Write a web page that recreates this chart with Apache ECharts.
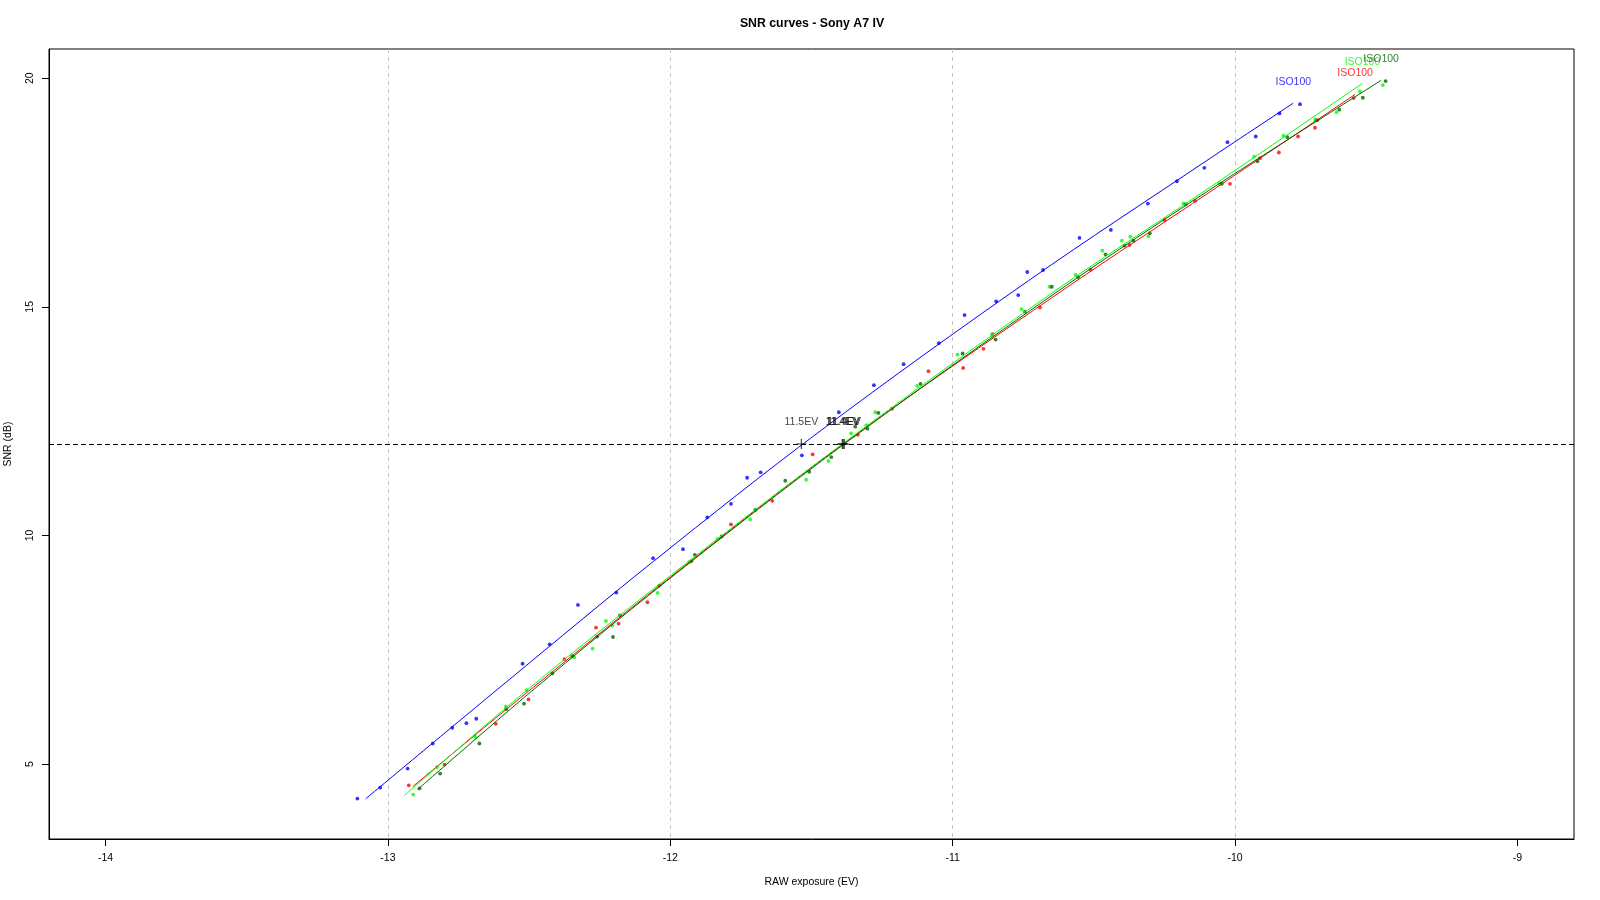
<!DOCTYPE html>
<html><head><meta charset="utf-8">
<script src="https://cdn.jsdelivr.net/npm/echarts@6/dist/echarts.min.js"></script>
<style>html,body{margin:0;padding:0;background:#fff}#c{width:1600px;height:900px}</style>
</head><body><div id="c"></div>
<script>
// ---- data ----
const chartTitle = 'SNR curves - Sony A7 IV';
const xTicks = [-14, -13, -12, -11, -10, -9];
const yTicks = [5, 10, 15, 20];
const snrThreshold = 12;
const seriesNames = ['ISO100', 'ISO100', 'ISO100', 'ISO100'];

const bluePts = [[-13.108,4.244],[-13.027,4.485],[-12.930,4.901],[-12.841,5.449],[-12.772,5.793],[-12.722,5.894],[-12.687,5.990],[-12.523,7.195],[-12.427,7.618],[-12.327,8.479],[-12.191,8.751],[-12.061,9.502],[-11.955,9.699],[-11.869,10.394],[-11.785,10.692],[-11.728,11.262],[-11.680,11.380],[-11.534,11.752],[-11.403,12.695],[-11.279,13.286],[-11.174,13.746],[-11.049,14.206],[-10.958,14.820],[-10.846,15.118],[-10.768,15.258],[-10.736,15.762],[-10.680,15.806],[-10.551,16.507],[-10.440,16.682],[-10.309,17.259],[-10.206,17.747],[-10.109,18.041],[-10.027,18.602],[-9.927,18.726],[-9.843,19.230],[-9.770,19.434]];
const redPts = [[-12.926,4.535],[-12.799,4.989],[-12.618,5.880],[-12.502,6.413],[-12.375,7.296],[-12.263,7.984],[-12.183,8.071],[-12.081,8.538],[-11.925,9.436],[-11.785,10.241],[-11.639,10.758],[-11.496,11.774],[-11.336,12.204],[-11.215,12.773],[-11.086,13.593],[-10.963,13.665],[-10.891,14.081],[-10.859,14.404],[-10.691,14.986],[-10.512,15.812],[-10.374,16.354],[-10.250,16.901],[-10.142,17.318],[-10.018,17.690],[-9.912,18.251],[-9.845,18.376],[-9.777,18.726],[-9.717,18.917],[-9.580,19.566]];
const greenPts = [[-12.910,4.331],[-12.826,4.929],[-12.689,5.587],[-12.582,6.259],[-12.509,6.617],[-12.340,7.333],[-12.275,7.524],[-12.228,8.128],[-12.205,8.028],[-12.045,8.742],[-11.932,9.421],[-11.833,9.925],[-11.717,10.350],[-11.519,11.218],[-11.440,11.628],[-11.360,12.234],[-11.306,12.410],[-11.274,12.695],[-11.126,13.271],[-10.983,13.957],[-10.861,14.382],[-10.756,14.951],[-10.657,15.440],[-10.565,15.703],[-10.470,16.229],[-10.401,16.448],[-10.371,16.535],[-10.307,16.542],[-10.183,17.265],[-10.056,17.703],[-9.933,18.288],[-9.829,18.742],[-9.717,19.092],[-9.641,19.259],[-9.558,19.713],[-9.477,19.851]];
const darkPts = [[-12.888,4.469],[-12.815,4.791],[-12.676,5.449],[-12.581,6.200],[-12.518,6.319],[-12.418,6.982],[-12.347,7.362],[-12.259,7.787],[-12.203,7.778],[-12.178,8.253],[-12.039,8.904],[-11.913,9.575],[-11.818,9.978],[-11.699,10.560],[-11.593,11.196],[-11.508,11.393],[-11.430,11.715],[-11.345,12.379],[-11.302,12.335],[-11.263,12.679],[-11.114,13.315],[-10.965,13.979],[-10.848,14.285],[-10.744,14.892],[-10.649,15.440],[-10.556,15.652],[-10.459,16.148],[-10.392,16.338],[-10.360,16.448],[-10.302,16.608],[-10.175,17.243],[-10.047,17.690],[-9.921,18.185],[-9.815,18.711],[-9.709,19.084],[-9.631,19.312],[-9.548,19.574],[-9.467,19.938]];

const blueFit = [[-13.079,4.237],[-12.578,6.807],[-12.059,9.436],[-11.469,12.285],[-10.732,15.571],[-10.100,18.201],[-9.794,19.456]];
const redFit = [[-12.912,4.507],[-12.503,6.588],[-12.018,8.998],[-11.388,12.0],[-10.613,15.352],[-10.082,17.543],[-9.575,19.647]];
const greenFit = [[-12.942,4.309],[-12.513,6.588],[-12.025,8.998],[-11.391,12.0],[-10.637,15.352],[-10.106,17.543],[-9.549,19.888]];
const darkFit = [[-12.895,4.441],[-12.492,6.588],[-12.014,8.998],[-11.384,12.0],[-10.625,15.352],[-10.094,17.543],[-9.483,19.954]];

const crossEV = [-11.536, -11.388, -11.391, -11.384];
const crossText = ['11.5EV', '11.4EV', '11.4EV', '11.4EV'];

// ---- styling ----
const colors = ['#0000FF', '#FF0000', '#00FF00', '#006400'];
const FONT = '"Liberation Sans", Arial, sans-serif';
const groups = [
  {pts: bluePts, fit: blueFit},
  {pts: redPts, fit: redFit},
  {pts: greenPts, fit: greenFit},
  {pts: darkPts, fit: darkFit}
];

const series = [];
groups.forEach((g, i) => {
  series.push({
    type: 'scatter', name: seriesNames[i], data: g.pts,
    symbol: 'circle', symbolSize: 3.8,
    itemStyle: {color: colors[i]}, z: 3, silent: true
  });
  series.push({
    type: 'line', name: seriesNames[i] + ' fit', data: g.fit,
    showSymbol: false, symbol: 'none', smooth: 0.35,
    lineStyle: {color: colors[i], width: 1}, z: 4, silent: true
  });
});
groups.forEach((g, i) => {
  const end = g.fit[g.fit.length - 1];
  series.push({
    type: 'scatter', data: [end], symbol: 'circle', symbolSize: 1, z: 6, silent: true,
    itemStyle: {color: 'rgba(0,0,0,0)'},
    label: {show: true, position: 'top', distance: 15, formatter: seriesNames[i],
      color: colors[i], fontSize: 10.5, fontFamily: FONT}
  });
});
series.push({
  type: 'scatter', z: 7, silent: true,
  data: crossEV.map((ev, i) => ({value: [ev, snrThreshold], label: {formatter: crossText[i]}})),
  symbol: 'path://M-0.11,-1H0.11V1H-0.11Z M-1,-0.11H1V0.11H-1Z', symbolSize: 10,
  itemStyle: {color: '#000'},
  label: {show: true, position: 'top', distance: 11, color: '#111', fontSize: 10.5, fontFamily: FONT}
});
series.push({
  type: 'line', data: [], silent: true,
  markLine: {silent: true, symbol: 'none', animation: false, label: {show: false},
    lineStyle: {color: '#000', type: [5, 3], width: 1},
    data: [{yAxis: snrThreshold}]}
});

const chart = echarts.init(document.getElementById('c'), null, {renderer: 'canvas'});
chart.setOption({
  animation: false,
  backgroundColor: '#fff',
  graphic: [{type: 'text', x: 812, y: 24, silent: true,
    style: {text: chartTitle, align: 'center', verticalAlign: 'middle',
      font: 'bold 12.3px ' + FONT, fill: '#000'}}],
  grid: {left: 49, right: 26, top: 49, bottom: 61, show: true, borderColor: '#000', borderWidth: 1,
    backgroundColor: 'transparent', outerBoundsMode: 'none', containLabel: false},
  xAxis: {
    type: 'value', min: -14.2, max: -8.8,
    name: 'RAW exposure (EV)', nameLocation: 'middle', nameGap: 38,
    nameTextStyle: {fontSize: 10.5, color: '#000', fontFamily: FONT},
    axisLine: {show: true, onZero: false, lineStyle: {color: '#000'}},
    axisTick: {show: true, length: 7, customValues: xTicks, lineStyle: {color: '#000'}},
    axisLabel: {customValues: xTicks, color: '#000', fontSize: 10.5, margin: 14, fontFamily: FONT},
    splitLine: {show: true, showMinLine: false, showMaxLine: false, lineStyle: {color: '#c4c4c4', type: [4, 4], width: 1}}
  },
  yAxis: {
    type: 'value', min: 3.36, max: 20.64,
    name: 'SNR (dB)', nameLocation: 'middle', nameGap: 35,
    nameTextStyle: {fontSize: 10.5, color: '#000', fontFamily: FONT},
    axisLine: {show: true, onZero: false, lineStyle: {color: '#000'}},
    axisTick: {show: true, length: 7, customValues: yTicks, lineStyle: {color: '#000'}},
    axisLabel: {customValues: yTicks, rotate: 90, color: '#000', fontSize: 10.5, margin: 13, fontFamily: FONT},
    splitLine: {show: false}
  },
  series: series
});
</script></body></html>
